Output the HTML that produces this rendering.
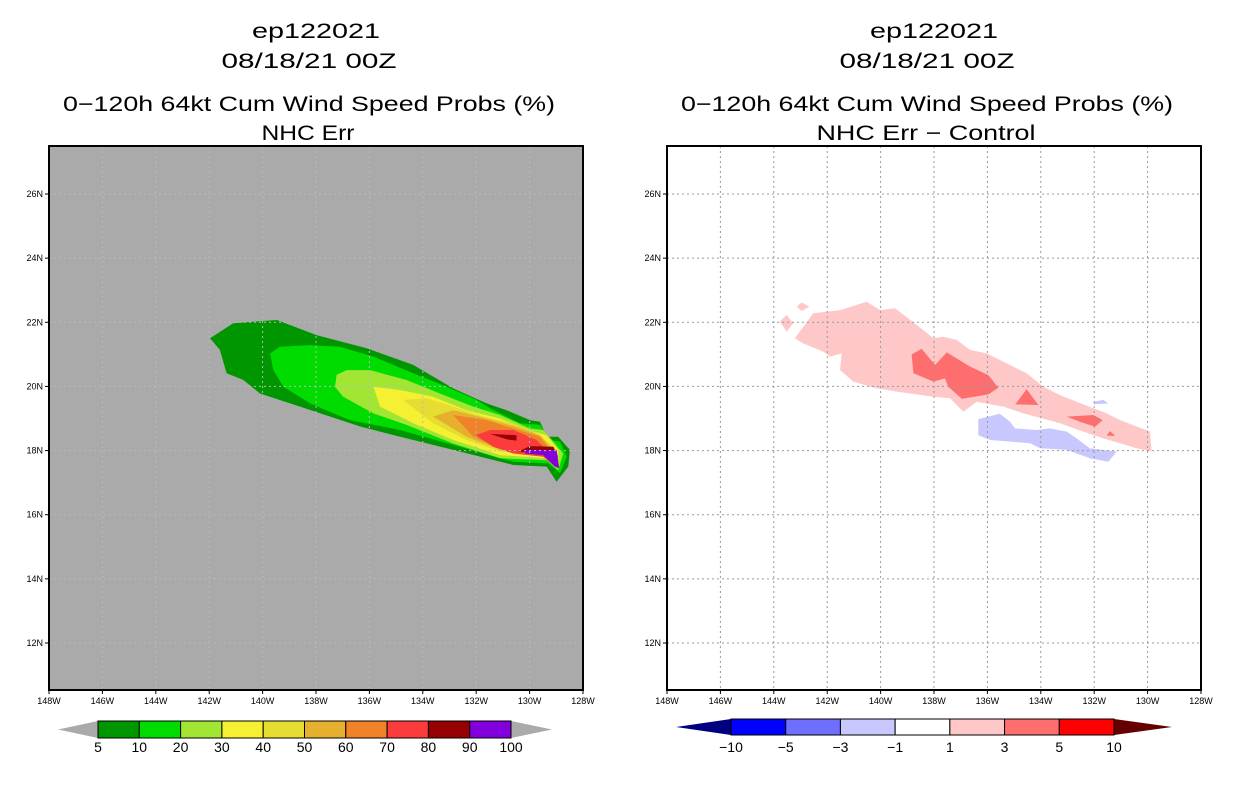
<!DOCTYPE html>
<html><head><meta charset="utf-8">
<style>
body{margin:0;background:#fff;}
svg{display:block;font-family:"Liberation Sans",sans-serif;}
</style></head>
<body>
<svg id="c" width="1236" height="800" viewBox="0 0 1236 800" xmlns="http://www.w3.org/2000/svg">
<g font-size="21" text-anchor="middle" fill="#000" lengthAdjust="spacingAndGlyphs">
<text x="316" y="38" textLength="128" lengthAdjust="spacingAndGlyphs">ep122021</text><text x="309" y="68" textLength="175" lengthAdjust="spacingAndGlyphs">08/18/21 00Z</text>
<text x="309" y="111" textLength="492" lengthAdjust="spacingAndGlyphs">0−120h 64kt Cum Wind Speed Probs (%)</text><text x="308" y="140" textLength="93" lengthAdjust="spacingAndGlyphs">NHC Err</text></g>
<g font-size="21" text-anchor="middle" fill="#000">
<text x="934" y="38" textLength="128" lengthAdjust="spacingAndGlyphs">ep122021</text><text x="927" y="68" textLength="175" lengthAdjust="spacingAndGlyphs">08/18/21 00Z</text>
<text x="927" y="111" textLength="492" lengthAdjust="spacingAndGlyphs">0−120h 64kt Cum Wind Speed Probs (%)</text><text x="926" y="140" textLength="219" lengthAdjust="spacingAndGlyphs">NHC Err − Control</text></g>
</svg>
<script>
// axes data
const lonTicks=[148,146,144,142,140,138,136,134,132,130,128];
const latTicks=[12,14,16,18,20,22,24,26];
// left panel contour levels and fills
const probLevels=[5,10,20,30,40,50,60,70,80,90,100];
const probColors=["#009600","#00dc00","#a0e632","#f5f032","#e6dc32","#e6af2d","#f08228","#fa3c3c","#960000","#8200dc"];
// polygons [lonW, latN] per level (index into probColors)
const probPolys=[
 [0,[[141.97,21.5],[141.1,21.97],[139.47,22.07],[137.98,21.6],[136.1,21.19],[134.36,20.67],[132.86,19.94],[131.61,19.47],[130.86,19.26],[129.99,18.95],[129.61,18.9],[129.36,18.43],[128.93,18.43],[128.49,18.02],[128.55,17.5],[128.99,17.03],[129.36,17.5],[130.61,17.55],[132.86,18.02],[134.85,18.43],[136.35,18.75],[138.6,19.37],[140.1,19.78],[140.72,20.2],[141.35,20.41],[141.6,21.14]]],
 [1,[[139.72,21.03],[139.35,21.24],[138.22,21.29],[137.1,21.24],[135.85,20.93],[134.36,20.41],[133.11,19.99],[131.98,19.58],[131.48,19.32],[130.36,18.85],[129.61,18.8],[129.24,18.33],[128.86,18.28],[128.61,17.81],[128.86,17.29],[129.3,17.6],[130.61,17.65],[132.61,18.12],[134.85,18.64],[136.73,18.95],[138.22,19.47],[139.22,19.99],[139.6,20.51]]],
 [2,[[137.23,20.36],[136.85,20.51],[135.98,20.51],[134.61,20.2],[133.36,19.78],[132.11,19.37],[131.11,19.11],[129.99,18.69],[129.49,18.64],[129.11,18.28],[128.74,17.91],[128.93,17.39],[129.36,17.7],[131.11,17.76],[132.86,18.22],[134.61,18.8],[135.85,19.16],[136.98,19.68],[137.29,19.99]]],
 [3,[[135.85,19.99],[134.85,19.89],[133.61,19.68],[132.36,19.26],[131.11,19.0],[129.86,18.59],[129.36,18.48],[128.93,18.02],[128.93,17.5],[129.36,17.76],[131.11,17.86],[132.86,18.33],[134.36,18.85],[135.6,19.37]]],
 [4,[[134.73,19.58],[133.86,19.63],[132.86,19.37],[131.73,19.06],[130.61,18.85],[129.74,18.54],[129.11,18.12],[129.05,17.6],[129.36,17.81],[131.11,17.97],[132.36,18.33],[133.61,18.85]]],
 [5,[[133.61,19.06],[132.86,19.26],[131.61,19.0],[130.49,18.74],[129.61,18.48],[129.17,18.07],[129.17,17.65],[129.49,17.86],[131.11,18.02],[132.36,18.43]]],
 [6,[[132.86,19.11],[131.61,18.95],[130.61,18.69],[129.61,18.43],[129.24,18.02],[129.24,17.7],[129.49,17.91],[131.11,18.07],[132.11,18.43]]],
 [7,[[132.01,18.48],[131.48,18.64],[130.61,18.64],[129.74,18.33],[129.36,18.02],[129.05,17.5],[129.49,17.81],[130.61,17.91],[131.36,18.12]]],
 [8,[[131.48,18.52],[130.49,18.48],[130.49,18.31],[130.86,18.35]]],
 [8,[[130.42,17.97],[129.99,18.14],[129.11,18.12],[128.93,17.81],[129.86,17.93]]],
 [9,[[130.17,18.02],[128.99,18.02],[128.89,17.45],[129.05,17.5],[129.49,17.86],[130.17,17.91]]]
];
// right panel difference levels
const diffLabels=["−10","−5","−3","−1","1","3","5","10"];
const diffColors=["#0000ff","#6e6eff","#c8c8ff","#ffffff","#ffc8c8","#ff6e6e","#ff0000"];
const diffPolys=[
 [4,[[143.21,21.5],[142.52,22.28],[141.52,22.38],[140.52,22.64],[140.02,22.38],[139.46,22.44],[138.65,21.92],[138.02,21.5],[137.65,21.55],[137.15,21.45],[136.65,21.14],[136.03,21.03],[135.4,20.77],[134.53,20.41],[133.9,19.99],[133.28,19.73],[132.66,19.52],[131.53,19.16],[131.03,18.95],[129.91,18.59],[129.85,17.97],[130.41,18.07],[131.66,18.38],[132.41,18.59],[133.28,18.85],[134.65,19.16],[135.4,19.37],[136.4,19.52],[136.9,19.21],[137.4,19.63],[138.02,19.68],[139.4,19.84],[140.15,19.94],[141.02,20.15],[141.52,20.51],[141.46,21.03],[141.89,20.93],[142.14,21.08],[142.89,21.34]]],
 [4,[[143.77,22.02],[143.52,22.23],[143.27,21.97],[143.52,21.71]]],
 [4,[[143.14,22.49],[142.96,22.62],[142.67,22.49],[142.96,22.35]]],
 [5,[[138.84,21.0],[138.46,21.17],[137.96,20.67],[137.52,21.06],[136.65,20.62],[135.96,20.35],[135.59,19.96],[135.96,19.75],[136.96,19.61],[137.46,19.99],[137.59,20.25],[138.02,20.15],[138.77,20.41]]],
 [5,[[134.96,19.44],[134.53,19.91],[134.09,19.42]]],
 [5,[[133.03,19.06],[132.03,19.11],[131.68,18.95],[131.97,18.74],[132.53,18.9]]],
 [5,[[131.53,18.46],[131.41,18.61],[131.22,18.46]]],
 [2,[[136.34,18.98],[135.53,19.15],[135.15,18.9],[134.97,18.69],[134.15,18.64],[133.66,18.69],[133.03,18.59],[132.66,18.38],[132.16,18.07],[131.16,17.97],[131.47,17.65],[132.16,17.76],[133.03,18.02],[134.03,18.07],[134.4,18.23],[135.15,18.28],[135.9,18.33],[136.34,18.48]]],
 [2,[[132.03,19.52],[131.66,19.58],[131.47,19.47],[132.03,19.44]]]
];
const NS="http://www.w3.org/2000/svg";
const svg=document.getElementById('c');
const PT=146,PB=690,W=534;
function xs(x0){return lon=>x0+(148-lon)*W/20;}
function ys(lat){return 194+(26-lat)*(449/14);}
function mk(tag,attrs,parent){const e=document.createElementNS(NS,tag);for(const k in attrs)e.setAttribute(k,attrs[k]);(parent||svg).appendChild(e);return e;}
function panel(x0,bg,polys,colors,gridCol,name){
  const X=xs(x0);
  const g=mk('g',{});
  
  
  const r=mk('rect',{x:x0,y:PT,width:W,height:PB-PT,fill:bg},g);
  
  
  polys.forEach(p=>{
    const pg=mk('polygon',{points:p[1].map(q=>X(q[0]).toFixed(1)+','+ys(q[1]).toFixed(1)).join(' '),fill:colors[p[0]]},g);
    
    
  });
  lonTicks.forEach(l=>{
    if(l!==148&&l!==128){const ln=mk('line',{x1:X(l),x2:X(l),y1:PT,y2:PB,stroke:gridCol,'stroke-width':1,'stroke-dasharray':'2,3'},g);
      
      }
    const t=mk('text',{x:X(l),y:704,'font-size':9,'text-anchor':'middle'},g);t.textContent=l+'W';
    
    
    mk('line',{x1:X(l),x2:X(l),y1:PB,y2:PB+4,stroke:'#000'},g);
  });
  latTicks.forEach(l=>{
    const ln=mk('line',{x1:x0,x2:x0+W,y1:ys(l),y2:ys(l),stroke:gridCol,'stroke-width':1,'stroke-dasharray':'2,3'},g);
    
    
    mk('line',{x1:x0-4,x2:x0,y1:ys(l),y2:ys(l),stroke:'#000'},g);
    const t=mk('text',{x:x0-6,y:ys(l)+3,'font-size':9,'text-anchor':'end'},g);t.textContent=l+'N';
    
    
  });
  const b=mk('rect',{x:x0,y:PT,width:W,height:PB-PT,fill:'none',stroke:'#000','stroke-width':2},g);
  
  
}
panel(49,'#aaaaaa',probPolys,probColors,'#bababa','left-map-panel');
panel(667,'#ffffff',diffPolys,diffColors,'#999999','right-map-panel');
function colorbar(x1,x2,y1,y2,tipL,tipR,colors,labels,lc,rc,name){
  const g=mk('g',{});
  
  
  const ym=(y1+y2)/2,n=colors.length,w=(x2-x1)/n;
  mk('polygon',{points:`${tipL},${ym} ${x1},${y1} ${x1},${y2}`,fill:lc},g);
  mk('polygon',{points:`${tipR},${ym} ${x2},${y1} ${x2},${y2}`,fill:rc},g);
  colors.forEach((c,i)=>{const r=mk('rect',{x:x1+i*w,y:y1,width:w,height:y2-y1,fill:c,stroke:'#000','stroke-width':1},g);
    
    });
  labels.forEach((l,i)=>{const t=mk('text',{x:x1+i*w,y:752,'font-size':14,'text-anchor':'middle'},g);t.textContent=l;
    
    });
}
colorbar(98,511,721,738,58,552,probColors,probLevels.map(String),'#aaaaaa','#aaaaaa','left-colorbar');
colorbar(731,1114,719,735,676,1172,diffColors,diffLabels,'#000080','#640000','right-colorbar');
</script>
</body></html>
